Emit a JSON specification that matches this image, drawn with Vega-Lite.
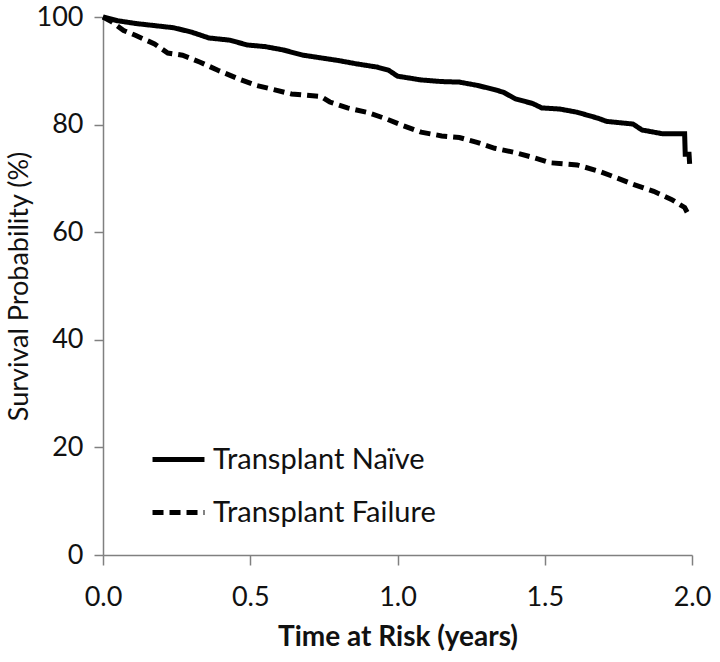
{
  "$schema": "https://vega.github.io/schema/vega-lite/v6.json",
  "width": 589,
  "height": 538,
  "autosize": {"type": "none"},
  "padding": {"left": 103, "top": 17, "right": 28, "bottom": 107},
  "background": "white",
  "config": {
    "view": {"stroke": null},
    "font": "Lato",
    "axis": {"grid": false, "domainColor": "#808080", "tickColor": "#808080", "labelColor": "#111111", "titleColor": "#111111", "labelFont": "Lato", "titleFont": "Lato"}
  },
  "data": {
    "values": [
      {"t": 0.0, "s": 100, "g": "Transplant Naïve"},
      {"t": 0.05, "s": 99.3, "g": "Transplant Naïve"},
      {"t": 0.11, "s": 98.8, "g": "Transplant Naïve"},
      {"t": 0.175, "s": 98.4, "g": "Transplant Naïve"},
      {"t": 0.24, "s": 98.0, "g": "Transplant Naïve"},
      {"t": 0.30, "s": 97.2, "g": "Transplant Naïve"},
      {"t": 0.36, "s": 96.1, "g": "Transplant Naïve"},
      {"t": 0.43, "s": 95.7, "g": "Transplant Naïve"},
      {"t": 0.49, "s": 94.8, "g": "Transplant Naïve"},
      {"t": 0.55, "s": 94.5, "g": "Transplant Naïve"},
      {"t": 0.61, "s": 93.9, "g": "Transplant Naïve"},
      {"t": 0.68, "s": 92.9, "g": "Transplant Naïve"},
      {"t": 0.74, "s": 92.4, "g": "Transplant Naïve"},
      {"t": 0.80, "s": 91.9, "g": "Transplant Naïve"},
      {"t": 0.86, "s": 91.3, "g": "Transplant Naïve"},
      {"t": 0.93, "s": 90.7, "g": "Transplant Naïve"},
      {"t": 0.97, "s": 90.1, "g": "Transplant Naïve"},
      {"t": 1.00, "s": 89.0, "g": "Transplant Naïve"},
      {"t": 1.08, "s": 88.3, "g": "Transplant Naïve"},
      {"t": 1.15, "s": 88.0, "g": "Transplant Naïve"},
      {"t": 1.21, "s": 87.9, "g": "Transplant Naïve"},
      {"t": 1.27, "s": 87.3, "g": "Transplant Naïve"},
      {"t": 1.33, "s": 86.5, "g": "Transplant Naïve"},
      {"t": 1.36, "s": 86.0, "g": "Transplant Naïve"},
      {"t": 1.40, "s": 84.8, "g": "Transplant Naïve"},
      {"t": 1.46, "s": 83.9, "g": "Transplant Naïve"},
      {"t": 1.49, "s": 83.1, "g": "Transplant Naïve"},
      {"t": 1.55, "s": 82.9, "g": "Transplant Naïve"},
      {"t": 1.61, "s": 82.3, "g": "Transplant Naïve"},
      {"t": 1.68, "s": 81.2, "g": "Transplant Naïve"},
      {"t": 1.71, "s": 80.6, "g": "Transplant Naïve"},
      {"t": 1.80, "s": 80.1, "g": "Transplant Naïve"},
      {"t": 1.83, "s": 79.0, "g": "Transplant Naïve"},
      {"t": 1.90, "s": 78.3, "g": "Transplant Naïve"},
      {"t": 1.975, "s": 78.3, "g": "Transplant Naïve"},
      {"t": 1.977, "s": 74.5, "g": "Transplant Naïve"},
      {"t": 1.99, "s": 74.5, "g": "Transplant Naïve"},
      {"t": 1.992, "s": 72.7, "g": "Transplant Naïve"},
      {"t": 0.0, "s": 100, "g": "Transplant Failure"},
      {"t": 0.03, "s": 99.1, "g": "Transplant Failure"},
      {"t": 0.07, "s": 97.5, "g": "Transplant Failure"},
      {"t": 0.11, "s": 96.6, "g": "Transplant Failure"},
      {"t": 0.175, "s": 95.0, "g": "Transplant Failure"},
      {"t": 0.22, "s": 93.3, "g": "Transplant Failure"},
      {"t": 0.27, "s": 92.9, "g": "Transplant Failure"},
      {"t": 0.33, "s": 91.6, "g": "Transplant Failure"},
      {"t": 0.39, "s": 90.1, "g": "Transplant Failure"},
      {"t": 0.46, "s": 88.5, "g": "Transplant Failure"},
      {"t": 0.52, "s": 87.3, "g": "Transplant Failure"},
      {"t": 0.58, "s": 86.5, "g": "Transplant Failure"},
      {"t": 0.64, "s": 85.7, "g": "Transplant Failure"},
      {"t": 0.74, "s": 85.2, "g": "Transplant Failure"},
      {"t": 0.77, "s": 84.2, "g": "Transplant Failure"},
      {"t": 0.83, "s": 83.1, "g": "Transplant Failure"},
      {"t": 0.895, "s": 82.3, "g": "Transplant Failure"},
      {"t": 0.96, "s": 81.1, "g": "Transplant Failure"},
      {"t": 1.02, "s": 79.8, "g": "Transplant Failure"},
      {"t": 1.08, "s": 78.6, "g": "Transplant Failure"},
      {"t": 1.15, "s": 77.9, "g": "Transplant Failure"},
      {"t": 1.21, "s": 77.6, "g": "Transplant Failure"},
      {"t": 1.27, "s": 76.7, "g": "Transplant Failure"},
      {"t": 1.33, "s": 75.6, "g": "Transplant Failure"},
      {"t": 1.40, "s": 74.8, "g": "Transplant Failure"},
      {"t": 1.46, "s": 73.9, "g": "Transplant Failure"},
      {"t": 1.52, "s": 72.9, "g": "Transplant Failure"},
      {"t": 1.61, "s": 72.5, "g": "Transplant Failure"},
      {"t": 1.68, "s": 71.4, "g": "Transplant Failure"},
      {"t": 1.74, "s": 70.2, "g": "Transplant Failure"},
      {"t": 1.80, "s": 68.9, "g": "Transplant Failure"},
      {"t": 1.87, "s": 67.6, "g": "Transplant Failure"},
      {"t": 1.93, "s": 66.1, "g": "Transplant Failure"},
      {"t": 1.975, "s": 64.6, "g": "Transplant Failure"},
      {"t": 1.99, "s": 63.0, "g": "Transplant Failure"}
    ]
  },
  "mark": {"type": "line", "color": "black", "strokeWidth": 5, "clip": false},
  "encoding": {
    "x": {
      "field": "t", "type": "quantitative",
      "scale": {"domain": [0, 2], "nice": false, "zero": false},
      "axis": {"values": [0, 0.5, 1, 1.5, 2], "format": ".1f", "title": "Time at Risk (years)", "titleFontWeight": "bold", "titleFontSize": 28, "titlePadding": 13, "labelFontSize": 27, "labelPadding": 19, "tickSize": 10, "domainWidth": 1.5, "tickWidth": 1.5, "labelFlush": false}
    },
    "y": {
      "field": "s", "type": "quantitative",
      "scale": {"domain": [0, 100], "nice": false},
      "axis": {"values": [0, 20, 40, 60, 80, 100], "title": "Survival Probability (%)", "titleFontWeight": "normal", "titleFontSize": 27, "titlePadding": 3, "labelFontSize": 27, "labelPadding": 11, "tickSize": 9, "domainWidth": 1.5, "tickWidth": 1.5}
    },
    "strokeDash": {
      "field": "g", "type": "nominal",
      "scale": {"domain": ["Transplant Naïve", "Transplant Failure"], "range": [[1, 0], [11, 6]]},
      "legend": {"title": null, "orient": "none", "legendX": 47, "legendY": 414, "symbolType": "stroke", "symbolSize": 2700, "symbolStrokeWidth": 5, "symbolStrokeColor": "black", "labelFontSize": 29, "labelColor": "#111111", "labelOffset": 6, "labelLimit": 400, "rowPadding": 9}
    }
  }
}
